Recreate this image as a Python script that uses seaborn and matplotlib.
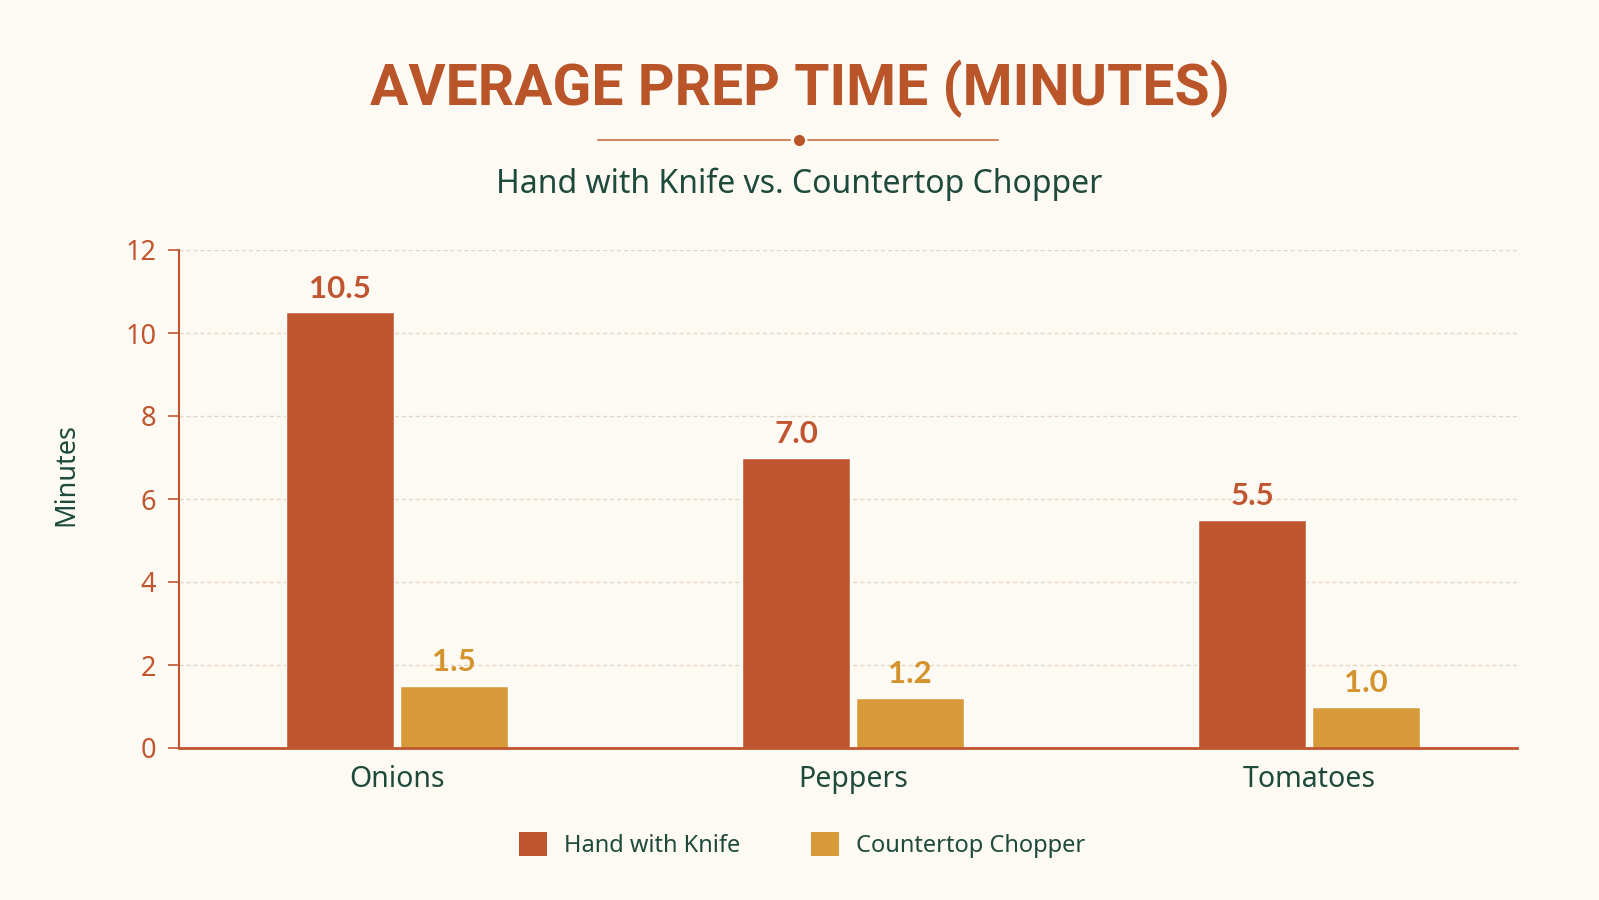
import matplotlib
matplotlib.use("Agg")
import matplotlib.pyplot as plt
import seaborn as sns
import pandas as pd
from matplotlib.patches import Patch
from matplotlib.lines import Line2D

categories = ["Onions", "Peppers", "Tomatoes"]
methods = ["Hand with Knife", "Countertop Chopper"]
knife_values = [10.5, 7.0, 5.5]
chopper_values = [1.5, 1.2, 1.0]
yticks = [0, 2, 4, 6, 8, 10, 12]

title = "AVERAGE PREP TIME (MINUTES)"
subtitle = "Hand with Knife vs. Countertop Chopper"
ylabel = "Minutes"

BG = "#FDFAF4"
KNIFE = "#C0562F"
CHOP = "#D99A3A"
CHOP_TXT = "#D4932C"
TITLE_C = "#BA5529"
GREEN = "#1E4A3C"
GRID = "#E6D6C6"

df = pd.DataFrame({
    "Vegetable": categories * 2,
    "Method": [methods[0]] * 3 + [methods[1]] * 3,
    "Minutes": knife_values + chopper_values,
})

sns.set_theme(style="white")
plt.rcParams["font.family"] = ["Noto Sans", "DejaVu Sans"]

fig = plt.figure(figsize=(15.99, 9.0), dpi=100, facecolor=BG)
ax = fig.add_axes([178.5 / 1599, 1 - 748 / 900, (1517 - 178.5) / 1599, (748 - 250) / 900])
ax.set_facecolor(BG)

sns.barplot(data=df, x="Vegetable", y="Minutes", hue="Method", order=categories,
            hue_order=methods, palette=[KNIFE, CHOP], width=0.5, gap=0.06,
            saturation=1, legend=False, ax=ax, zorder=3)

ax.set_ylim(0, 12)
ax.set_xlim(-0.479, 2.456)
ax.set_yticks(yticks)
ax.set_yticklabels([str(t) for t in yticks])
for t in yticks[1:]:
    ax.axhline(t, color=GRID, lw=1.0, ls=(0, (3, 2)), zorder=0)

for sp in ["top", "right"]:
    ax.spines[sp].set_visible(False)
ax.spines["left"].set_color(KNIFE)
ax.spines["left"].set_linewidth(1.5)
ax.spines["bottom"].set_color(KNIFE)
ax.spines["bottom"].set_linewidth(2.0)
ax.spines["bottom"].set_zorder(4)

ax.tick_params(axis="y", colors=KNIFE, labelsize=19.5, length=8, width=1.2,
               direction="out", pad=8, left=True)
ax.tick_params(axis="x", colors=GREEN, labelsize=20.5, length=0, pad=12)
for lab in ax.get_xticklabels():
    lab.set_color(GREEN)
ax.set_xlabel("")
ax.set_ylabel("")
fig.text(66 / 1599, 1 - 474 / 900, ylabel, rotation=90, ha="center", va="center",
         color=GREEN, fontsize=19.5)

# value labels
for cont, color in zip(ax.containers, [KNIFE, CHOP_TXT]):
    ax.bar_label(cont, fmt="%.1f", padding=7, color=color, fontsize=22.5,
                 fontweight="bold", family=["Lato", "DejaVu Sans"])

# Title and decoration
fig.text(0.5, 1 - 89 / 900, title, ha="center", va="center", color=TITLE_C,
         fontsize=41, fontweight="bold", family=["Roboto", "DejaVu Sans"])
deco = "#C97A52"
fig.add_artist(Line2D([598 / 1599, 790 / 1599], [1 - 140 / 900] * 2, color=deco, lw=1.3))
fig.add_artist(Line2D([808 / 1599, 998 / 1599], [1 - 140 / 900] * 2, color=deco, lw=1.3))
fig.add_artist(Line2D([799 / 1599], [1 - 140 / 900], marker="o", ms=7, color=TITLE_C, lw=0))
fig.text(0.5, 1 - 184 / 900, subtitle, ha="center", va="center", color=GREEN, fontsize=23)

handles = [Patch(facecolor=KNIFE, edgecolor="none"), Patch(facecolor=CHOP, edgecolor="none")]
leg = fig.legend(handles, methods, loc="center", bbox_to_anchor=(0.5015, 1 - 845 / 900),
                 ncol=2, frameon=False, fontsize=17, handlelength=1.2, handleheight=1.2,
                 columnspacing=3.0, handletextpad=0.7)
for t in leg.get_texts():
    t.set_color(GREEN)

fig.savefig("out.png", dpi=100, facecolor=BG)
